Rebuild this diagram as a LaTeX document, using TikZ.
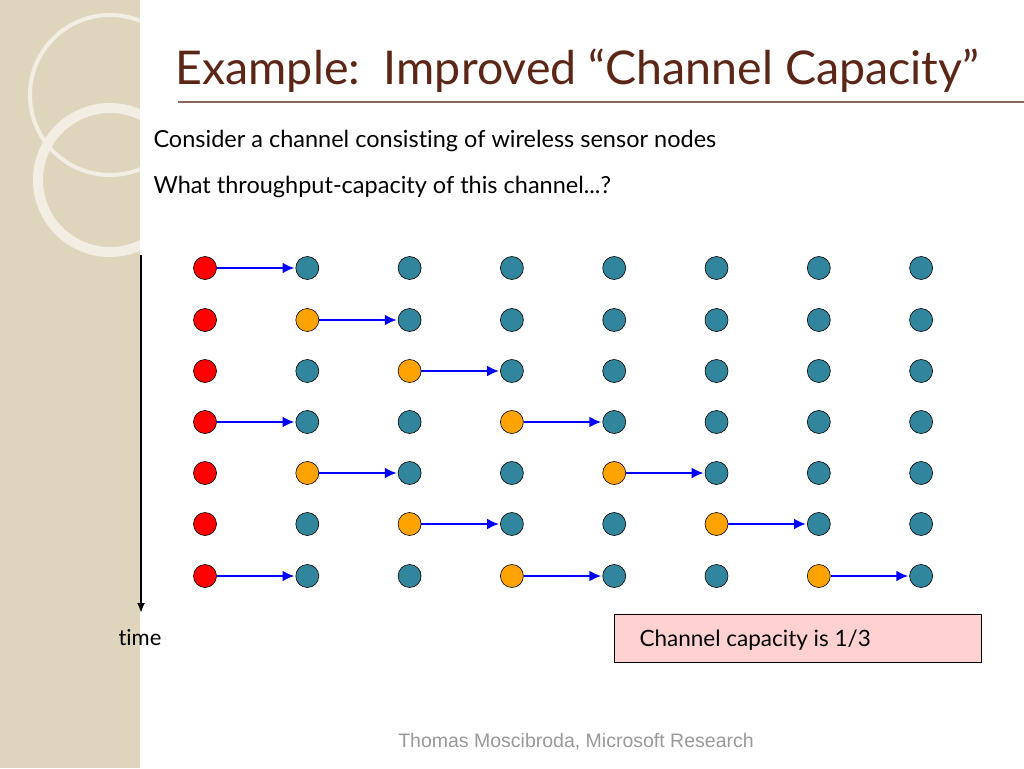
\documentclass[tikz,border=0pt]{standalone}
\usepackage{fontspec}
\setmainfont{Lato}[Ligatures={NoCommon,TeX}]
\newfontfamily\footfont{Liberation Sans}
\usetikzlibrary{arrows.meta}
\begin{document}
\begin{tikzpicture}[x=1pt,y=-1pt,
  nd/.style={circle,draw=black,line width=0.6pt,minimum size=23pt,inner sep=0pt},
  b/.style={nd,fill=teal1},
  r/.style={nd,fill=red},
  o/.style={nd,fill=orange1},
  ar/.style={draw=blue,line width=2.4pt,-{Latex[length=12pt,width=11pt]},shorten >=1pt}]
\definecolor{teal1}{RGB}{49,133,156}
\definecolor{orange1}{RGB}{255,163,0}
\definecolor{band}{RGB}{222,213,188}
\definecolor{titlec}{RGB}{92,38,22}
\useasboundingbox (0,0) rectangle (1024,768);
\fill[band] (0,0) rectangle (140,768);
\draw[white!60!band,line width=4pt] (110,95) circle (80);
\draw[white!60!band,line width=10pt] (110,180) circle (72);
\fill[white] (140,0) rectangle (1024,768);
\draw[titlec!70,line width=1.5pt] (178,102) -- (1024,102);
\node[anchor=base west,text=titlec,font=\fontsize{46.5}{50}\selectfont] (title) at (172,84) {Example:\ \ Improved “Channel Capacity”};
\node[anchor=base west,font=\fontsize{23.5}{26}\selectfont] (t1) at (150,147) {Consider a channel consisting of wireless sensor nodes};
\node[anchor=base west,font=\fontsize{23.5}{26}\selectfont] (t2) at (150,193) {What throughput-capacity of this channel...?};
\foreach \row/\y/\cols in {1/268/{r,b,b,b,b,b,b,b},2/320/{r,o,b,b,b,b,b,b},3/371/{r,b,o,b,b,b,b,b},4/422/{r,b,b,o,b,b,b,b},5/473/{r,o,b,b,o,b,b,b},6/524/{r,b,o,b,b,o,b,b},7/576/{r,b,b,o,b,b,o,b}}{
  \foreach \s [count=\c] in \cols {
    \pgfmathsetmacro{\xx}{205+102.3*(\c-1)}
    \node[\s] (n\row-\c) at (\xx,\y) {};
  }
}
\foreach \a/\b in {1-1/1-2,2-2/2-3,3-3/3-4,4-1/4-2,4-4/4-5,5-2/5-3,5-5/5-6,6-3/6-4,6-6/6-7,7-1/7-2,7-4/7-5,7-7/7-8}
  \draw[ar] (n\a) -- (n\b);
\coordinate (ts) at (141,255);
\coordinate (te) at (141,613);
\draw[line width=2pt,-{Latex[length=10pt,width=8pt]}] (ts) -- (te);
\node[font=\fontsize{22}{24}\selectfont] (time) at (140,638) {time};
\node[draw=black,fill=red!18,minimum width=367pt,minimum height=48pt,anchor=north west,line width=0.8pt] (box) at (614,614) {};
\node[anchor=west,font=\fontsize{22.5}{26}\selectfont] (cap) at (636,640) {Channel capacity is 1/3};
\node[text=gray!80,font=\footfont\fontsize{19.5}{22}\selectfont] (foot) at (576,742) {Thomas Moscibroda, Microsoft Research};
\end{tikzpicture}
\end{document}
